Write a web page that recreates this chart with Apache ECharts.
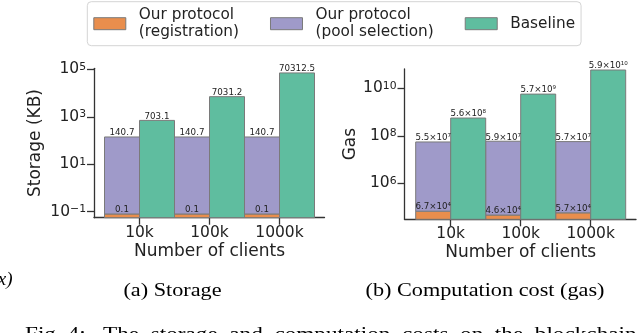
<!DOCTYPE html>
<html>
<head>
<meta charset="utf-8">
<script src="https://cdn.jsdelivr.net/npm/echarts@6/dist/echarts.min.js"></script>
<style>
  html, body { margin: 0; padding: 0; background: #fff; }
  #chart { width: 640px; height: 333px; }
</style>
</head>
<body>
<div id="chart"></div>
<script>
// data
const categories = ['10k', '100k', '1000k'];
const seriesNames = ['Our protocol\n(registration)', 'Our protocol\n(pool selection)', 'Baseline'];
const storageRegistration = [0.08, 0.08, 0.08];
const storagePool = [140.7, 140.7, 140.7];
const storageBaseline = [703.1, 7031.2, 70312.5];
const gasRegistration = [6.7e4, 4.6e4, 5.7e4];
const gasPool = [5.5e7, 5.9e7, 5.7e7];
const gasBaseline = [5.6e8, 5.7e9, 5.9e10];
const storageTicks = [0.1, 10, 1000, 100000];
const gasTicks = [1e6, 1e8, 1e10];

const colors = ['#e98e4d', '#9f9ac9', '#5fbd9f'];
const edge = '#7a7a7a';
const ink = '#222';
const font = 'DejaVu Sans';

// axis ranges (pixels measured on the picture)
const storageMin = Math.pow(10, -1.253), storageMax = Math.pow(10, 5.042);
const gasMin = Math.pow(10, 4.484), gasMax = Math.pow(10, 10.813);

const SUP = { '0': '\u2070', '1': '\u00b9', '2': '\u00b2', '3': '\u00b3', '4': '\u2074',
  '5': '\u2075', '6': '\u2076', '7': '\u2077', '8': '\u2078', '9': '\u2079', '-': '\u207b' };
function sup(n) { return String(n).split('').map(c => SUP[c]).join(''); }
// tick labels as 10^n with a real raised exponent (rich text)
function powLabel(v) {
  const e = Math.round(Math.log10(v));
  return '{b|10}{s|' + String(e).replace('-', '\u2212') + '}';
}
function sciLabel(v) {
  const e = Math.floor(Math.log10(v));
  return (v / Math.pow(10, e)).toFixed(1) + '\u00d710' + sup(e);
}
function fixedLabel(v) { return v.toFixed(1); }

// slot 0 = left half of the category, slot 1 = right half
function barSeries(name, values, base, slot, color, axisIdx, fmt) {
  return {
    type: 'custom',
    name: name,
    xAxisIndex: axisIdx,
    yAxisIndex: axisIdx,
    itemStyle: { color: color, borderColor: edge, borderWidth: 1 },
    data: values.map((v, i) => [i, v, base[i]]),
    encode: { x: 0, y: 1 },
    renderItem: function (params, api) {
      const i = api.value(0);
      const top = api.coord([i, api.value(1)]);
      const bot = api.coord([i, api.value(2)]);
      const w = api.size([1, 1], [i, 1])[0] / 2;
      const x0 = slot === 0 ? top[0] - w : top[0];
      return {
        type: 'group',
        children: [
          { type: 'rect', shape: { x: x0, y: top[1], width: w, height: bot[1] - top[1] },
            style: { fill: color, stroke: edge, lineWidth: 1 } },
          { type: 'text', z2: 50,
            style: { text: fmt(values[i]), x: x0 + w / 2, y: top[1] + 0.5, align: 'center',
              verticalAlign: 'bottom', fontSize: 8.7, fontFamily: font, fill: ink } }
        ]
      };
    }
  };
}

const gridTop = [68.3, 69], gridH = [149.4, 150.3];
const outerLeft = [94, 404.5], outerW = [230.5, 231.5];
const innerLeft = [104.5, 415.7], innerW = [210, 210];

const grids = [], xAxes = [], yAxes = [];
const yRange = [[storageMin, storageMax], [gasMin, gasMax]];
const yTicks = [storageTicks, gasTicks];
const yNames = ['Storage (KB)', 'Gas'];
const yNameGap = [50, 44];
const axisLineStyle = { color: '#333', width: 1.3 };

for (let k = 0; k < 2; k++) {
  // inner grid: bars and category ticks
  grids.push({ left: innerLeft[k], top: gridTop[k], width: innerW[k], height: gridH[k] });
  // outer grid: spines and value axis
  grids.push({ left: outerLeft[k], top: gridTop[k], width: outerW[k], height: gridH[k] });
  xAxes.push({
    gridIndex: 2 * k, type: 'category', data: categories,
    axisLine: { show: false },
    axisTick: { show: true, alignWithLabel: true, length: 7, lineStyle: axisLineStyle },
    axisLabel: { margin: 7, fontSize: 15.5, fontFamily: font, color: ink },
    name: 'Number of clients', nameLocation: 'middle', nameGap: 25,
    nameTextStyle: { fontSize: 17, fontFamily: font, color: ink },
    splitLine: { show: false }
  });
  xAxes.push({
    gridIndex: 2 * k + 1, type: 'value', min: 0, max: 1,
    axisLine: { show: true, lineStyle: axisLineStyle },
    axisTick: { show: false }, axisLabel: { show: false }, splitLine: { show: false }
  });
  yAxes.push({
    gridIndex: 2 * k, type: 'log', logBase: 10, min: yRange[k][0], max: yRange[k][1], show: false
  });
  yAxes.push({
    gridIndex: 2 * k + 1, type: 'log', logBase: 10, min: yRange[k][0], max: yRange[k][1],
    axisLine: { show: true, lineStyle: axisLineStyle },
    axisTick: { show: true, length: 7, lineStyle: axisLineStyle, customValues: yTicks[k] },
    axisLabel: { margin: 8, color: ink, customValues: yTicks[k], formatter: powLabel,
      rich: {
        b: { fontSize: 15.5, fontFamily: font, color: ink },
        s: { fontSize: 10.8, fontFamily: font, color: ink, verticalAlign: 'top' }
      } },
    splitLine: { show: false },
    name: yNames[k], nameLocation: 'middle', nameGap: yNameGap[k],
    nameTextStyle: { fontSize: 17, fontFamily: font, color: ink }
  });
}

const series = [
  barSeries(seriesNames[0], storageRegistration, storageRegistration.map(() => storageMin), 0, colors[0], 0, fixedLabel),
  barSeries(seriesNames[1], storagePool, storageRegistration, 0, colors[1], 0, fixedLabel),
  barSeries(seriesNames[2], storageBaseline, storageBaseline.map(() => storageMin), 1, colors[2], 0, fixedLabel),
  barSeries(seriesNames[0], gasRegistration, gasRegistration.map(() => gasMin), 0, colors[0], 2, sciLabel),
  barSeries(seriesNames[1], gasPool, gasRegistration, 0, colors[1], 2, sciLabel),
  barSeries(seriesNames[2], gasBaseline, gasBaseline.map(() => gasMin), 1, colors[2], 2, sciLabel)
];

const serif = 'Liberation Serif';
const chart = echarts.init(document.getElementById('chart'), null, { renderer: 'canvas' });
chart.setOption({
  animation: false,
  backgroundColor: '#fff',
  legend: {
    data: seriesNames,
    left: 87.3, top: 1.7,
    orient: 'horizontal',
    padding: [5, 6, 5, 6],
    itemWidth: 32, itemHeight: 12, itemGap: 31,
    icon: 'rect',
    itemStyle: { borderColor: edge, borderWidth: 1 },
    borderColor: '#d4d4d4', borderWidth: 1, borderRadius: 4,
    backgroundColor: '#fff',
    selectedMode: false,
    textStyle: { fontSize: 15.3, fontFamily: font, color: ink, lineHeight: 17, padding: [0, 0, 0, 8] }
  },
  grid: grids,
  xAxis: xAxes,
  yAxis: yAxes,
  series: series,
  graphic: [
    { type: 'text', x: 172.5, y: 291.5, scaleX: 1.17,
      style: { text: '(a) Storage', align: 'center', verticalAlign: 'middle', fontSize: 19, fontFamily: serif, fill: '#000' } },
    { type: 'text', x: 485, y: 291.5, scaleX: 1.17,
      style: { text: '(b) Computation cost (gas)', align: 'center', verticalAlign: 'middle', fontSize: 19, fontFamily: serif, fill: '#000' } },
    { type: 'text', x: 25, y: 334.5, scaleX: 1.19,
      style: { text: 'Fig. 4:   The  storage  and  computation  costs  on  the  blockchain.', align: 'left', verticalAlign: 'middle', fontSize: 19.5, fontFamily: serif, fill: '#000' } },
    { type: 'text', x: 12.5, y: 280,
      style: { text: 'x)', align: 'right', verticalAlign: 'middle', fontSize: 19, fontStyle: 'italic', fontFamily: serif, fill: '#000' } }
  ]
});
</script>
</body>
</html>
